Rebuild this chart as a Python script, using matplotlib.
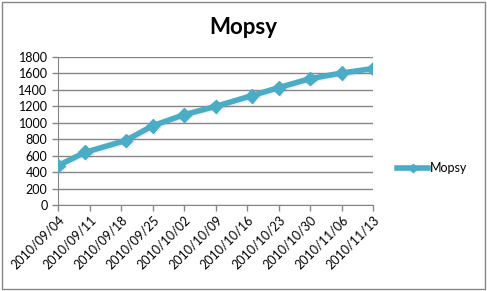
import matplotlib
matplotlib.use('Agg')
import matplotlib.pyplot as plt
import matplotlib.patheffects as pe
import numpy as np
import datetime as dt

# datos
fechas = ['2010/09/04', '2010/09/10', '2010/09/19', '2010/09/25', '2010/10/02', '2010/10/09',
          '2010/10/17', '2010/10/23', '2010/10/30', '2010/11/06', '2010/11/13']
valores = [479, 641, 784, 963, 1098, 1199, 1329, 1427, 1537, 1605, 1659]
etiquetas = ['2010/09/04', '2010/09/11', '2010/09/18', '2010/09/25', '2010/10/02', '2010/10/09',
             '2010/10/16', '2010/10/23', '2010/10/30', '2010/11/06', '2010/11/13']
serie = 'Mopsy'

x = [dt.datetime.strptime(f, '%Y/%m/%d') for f in fechas]
x_ticks = [dt.datetime.strptime(f, '%Y/%m/%d') for f in etiquetas]

plt.rcParams['font.family'] = ['Lato', 'DejaVu Sans']

fig = plt.figure(figsize=(4.87, 2.91), dpi=100)
ax = fig.add_axes([58 / 487, 1 - 205 / 291, (373 - 58) / 487, (205 - 57) / 291])

color = '#4BACC6'
sombra = [pe.SimpleLineShadow(offset=(1, -1), shadow_color='#777777', alpha=0.12), pe.Normal()]
ax.plot(x, valores, color=color, lw=4, marker='D', ms=7, mfc=color, mec=color,
        label=serie, zorder=3, path_effects=sombra)

ax.set_ylim(0, 1800)
ax.set_yticks(np.arange(0, 1801, 200))
ax.set_xlim(x_ticks[0], x_ticks[-1])
ax.set_xticks(x_ticks)
ax.set_xticklabels(etiquetas, rotation=45, ha='right', rotation_mode='anchor')

ax.grid(axis='y', color='#868686', lw=1)
ax.set_axisbelow(True)
for s in ['top', 'right']:
    ax.spines[s].set_visible(False)
for s in ['left', 'bottom']:
    ax.spines[s].set_color('#868686')
ax.tick_params(axis='both', colors='#868686', labelcolor='black', labelsize=9, length=4, width=1)
ax.tick_params(axis='x', pad=2)

fig.suptitle(serie, x=0.5, y=0.94, fontsize=16, fontweight='bold')

ax.legend(loc='center left', bbox_to_anchor=(1.06, 0.25), frameon=False, fontsize=9,
          handlelength=2.5, handletextpad=0.1, borderaxespad=0, markerscale=0.6)

borde = plt.Rectangle((0.004, 0.006), 0.992, 0.988, transform=fig.transFigure,
                      fill=False, edgecolor='#868686', lw=1)
fig.patches.append(borde)

fig.savefig('out.png', dpi=100)
